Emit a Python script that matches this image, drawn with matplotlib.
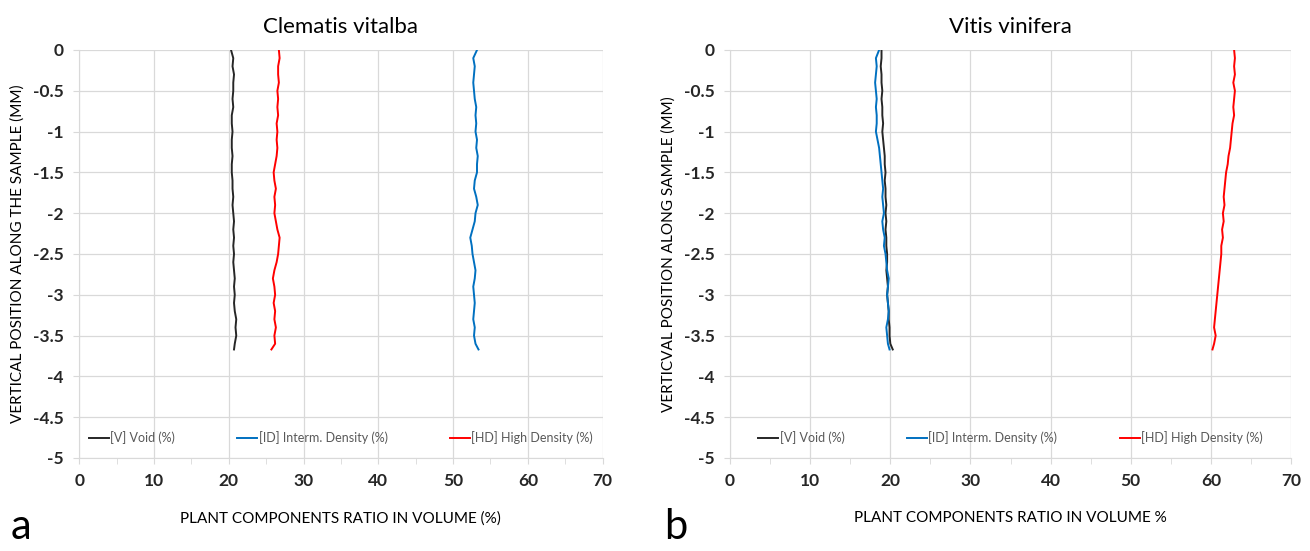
import numpy as np
import matplotlib.pyplot as plt

# -------------------------------------------------------------------- #
# Data
# -------------------------------------------------------------------- #
depth = [0, -0.1, -0.2, -0.3, -0.4, -0.5, -0.6, -0.7, -0.8, -0.9,
         -1.0, -1.1, -1.2, -1.3, -1.4, -1.5, -1.6, -1.7, -1.8, -1.9,
         -2.0, -2.1, -2.2, -2.3, -2.4, -2.5, -2.6, -2.7, -2.8, -2.9,
         -3.0, -3.1, -3.2, -3.3, -3.4, -3.5, -3.6, -3.67]

# Clematis vitalba
clem_void = [20.3, 20.6, 20.5, 20.7, 20.6, 20.6, 20.5, 20.6, 20.4, 20.4,
             20.5, 20.4, 20.4, 20.5, 20.4, 20.4, 20.5, 20.5, 20.6, 20.5,
             20.6, 20.7, 20.6, 20.7, 20.6, 20.7, 20.6, 20.7, 20.8, 20.7,
             20.8, 20.7, 20.8, 21.0, 20.9, 21.0, 20.8, 20.7]
clem_id = [53.2, 52.7, 52.9, 52.8, 52.7, 52.8, 52.9, 53.1, 53.0, 53.1,
           53.0, 53.2, 53.1, 53.3, 53.2, 53.2, 52.9, 52.8, 53.1, 53.3,
           53.0, 52.9, 52.6, 52.3, 52.5, 52.6, 52.8, 53.0, 52.9, 52.7,
           52.8, 52.9, 52.8, 52.7, 52.9, 52.8, 53.0, 53.4]
clem_hd = [26.7, 26.8, 26.6, 26.6, 26.7, 26.5, 26.6, 26.5, 26.6, 26.4,
           26.5, 26.4, 26.5, 26.4, 26.2, 26.0, 26.1, 26.3, 26.1, 26.2,
           26.1, 26.3, 26.5, 26.8, 26.7, 26.6, 26.4, 26.1, 25.9, 26.1,
           26.2, 26.0, 26.2, 26.1, 26.3, 26.1, 26.2, 25.7]

# Vitis vinifera
vit_void = [18.9, 18.9, 18.8, 18.9, 18.9, 19.0, 18.9, 19.0, 19.0, 19.1,
            19.0, 19.1, 19.2, 19.3, 19.3, 19.4, 19.3, 19.4, 19.4, 19.5,
            19.4, 19.5, 19.4, 19.5, 19.5, 19.6, 19.6, 19.5, 19.6, 19.7,
            19.6, 19.7, 19.8, 19.8, 19.9, 19.9, 20.0, 20.3]
vit_id = [18.6, 18.2, 18.3, 18.2, 18.1, 18.2, 18.3, 18.2, 18.3, 18.3,
          18.2, 18.4, 18.6, 18.7, 18.8, 18.9, 19.0, 19.1, 19.0, 19.1,
          19.2, 19.0, 19.1, 19.3, 19.2, 19.4, 19.5, 19.6, 19.8, 19.7,
          19.6, 19.7, 19.8, 19.7, 19.5, 19.6, 19.7, 19.9]
vit_hd = [62.9, 63.0, 62.9, 63.0, 62.8, 63.0, 62.9, 62.8, 62.9, 62.7,
          62.6, 62.5, 62.4, 62.2, 62.1, 61.9, 61.8, 61.7, 61.6, 61.7,
          61.5, 61.6, 61.4, 61.5, 61.3, 61.3, 61.2, 61.1, 61.0, 60.9,
          60.8, 60.7, 60.6, 60.5, 60.4, 60.6, 60.4, 60.2]

labels = ['[V] Void (%)', '[ID] Interm. Density (%)', '[HD] High Density (%)']
colors = ['#262626', '#0070C0', '#FF0000']

plt.rcParams['font.family'] = ['Lato', 'DejaVu Sans']
grey = '#D9D9D9'


def style_axis(ax, title, xlabel, ylabel):
    ax.set_xlim(0, 70)
    ax.set_ylim(-5, 0)
    ax.set_xticks(np.arange(0, 71, 10))
    ax.set_xticks(np.arange(5, 70, 10), minor=True)
    ax.set_yticks(np.arange(-5, 0.01, 0.5))
    ax.set_yticklabels([f'{v:g}' for v in np.arange(-5, 0.01, 0.5)])
    ax.grid(True, which='major', color=grey, lw=0.9)
    ax.set_axisbelow(True)
    for s in ['top', 'right']:
        ax.spines[s].set_visible(False)
    for s in ['left', 'bottom']:
        ax.spines[s].set_color(grey)
    ax.tick_params(which='both', direction='out', length=4, color=grey,
                   labelsize=12.5, labelcolor='#262626', pad=7)
    for t in ax.get_xticklabels() + ax.get_yticklabels():
        t.set_fontweight('bold')
    ax.set_title(title, fontsize=16, pad=12)
    ax.set_xlabel(xlabel, fontsize=11, labelpad=16)
    ax.set_ylabel(ylabel, fontsize=11, labelpad=6)
    leg = ax.legend(loc='center', bbox_to_anchor=(0.5, 0.05), ncol=3,
                    frameon=False, fontsize=9, handlelength=1.6,
                    handletextpad=0.1, columnspacing=5.0)
    for t in leg.get_texts():
        t.set_color('#595959')


fig = plt.figure(figsize=(13.1, 5.51), dpi=100)
ax1 = fig.add_axes([0.0605, 0.1688, 0.3995, 0.7405])
ax2 = fig.add_axes([0.5573, 0.1688, 0.4282, 0.7405])

for vals, lab, c in zip([clem_void, clem_id, clem_hd], labels, colors):
    ax1.plot(vals, depth, color=c, lw=1.4, label=lab)
for vals, lab, c in zip([vit_void, vit_id, vit_hd], labels, colors):
    ax2.plot(vals, depth, color=c, lw=1.4, label=lab)

style_axis(ax1, 'Clematis vitalba', 'PLANT COMPONENTS RATIO IN VOLUME (%)',
           'VERTICAL POSITION ALONG THE SAMPLE (MM)')
style_axis(ax2, 'Vitis vinifera', 'PLANT COMPONENTS RATIO IN VOLUME %',
           'VERTICVAL POSITION ALONG SAMPLE (MM)')

fig.text(0.008, 0.022, 'a', fontsize=30)
fig.text(0.507, 0.022, 'b', fontsize=30)

fig.savefig('out.png', dpi=100)
